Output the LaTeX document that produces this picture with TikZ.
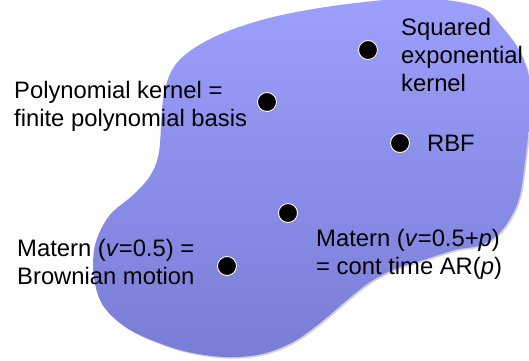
\documentclass[tikz,border=0pt]{standalone}
\usepackage{fontspec}
\setmainfont{Liberation Sans}
\usetikzlibrary{positioning,shadows}
\definecolor{blobtop}{RGB}{156,159,252}
\definecolor{blobbot}{RGB}{121,125,213}
\tikzset{
  kdot/.style={circle, fill=black, draw=white, line width=0.9pt, minimum size=19pt, inner sep=0pt,
    drop shadow={shadow xshift=1pt, shadow yshift=-1pt, opacity=0.35}},
  klabel/.style={anchor=west, align=left, inner sep=0pt, font=\fontsize{23.8}{28}\selectfont},
}

\begin{document}
\begin{tikzpicture}[x=1pt, y=-1pt]
\clip (0,0) rectangle (529,360);
% --- the space of kernels ---
\fill[black, opacity=0.18, xshift=1.5pt, yshift=-1.5pt] plot[smooth cycle, tension=0.55] coordinates {
  (163,100) (172,70) (190,51) (223,33) (273,17) (340,5) (420,-2) (480,7) (502,27) (519,50)
  (530,80) (531,110) (527,145) (520,195) (508,222) (494,238) (478,246) (455,250) (423,260)
  (395,269) (370,282) (347,300) (320,323) (293,342) (262,354) (225,357) (180,350) (132,331)
  (104,307) (94,278) (95,245) (109,216) (133,195) (150,176) (159,152)};
\shade[top color=blobtop, bottom color=blobbot] plot[smooth cycle, tension=0.55] coordinates {
  (163,100) (172,70) (190,51) (223,33) (273,17) (340,5) (420,-2) (480,7) (502,27) (519,50)
  (530,80) (531,110) (527,145) (520,195) (508,222) (494,238) (478,246) (455,250) (423,260)
  (395,269) (370,282) (347,300) (320,323) (293,342) (262,354) (225,357) (180,350) (132,331)
  (104,307) (94,278) (95,245) (109,216) (133,195) (150,176) (159,152)};
% --- kernels ---
\node[kdot] (dotsq) at (368,50) {};
\node[kdot] (dotpoly) at (267,102) {};
\node[kdot] (dotrbf) at (400,143) {};
\node[kdot] (dotmatp) at (288,213) {};
\node[kdot] (dotbrown) at (227,266) {};
% --- labels ---
\node[klabel] (lblsq) at (401,55) {Squared\\exponential\\kernel};
\node[klabel] (lblpoly) at (14,106) {Polynomial kernel =\\finite polynomial basis};
\node[klabel, right=17pt of dotrbf] (lblrbf) {RBF};
\node[klabel] (lblmatp) at (316,254) {Matern (\textit{v}=0.5+\textit{p})\\= cont time AR(\textit{p})};
\node[klabel] (lblbrown) at (17,262) {Matern (\textit{v}=0.5) =\\Brownian motion};
\end{tikzpicture}
\end{document}
